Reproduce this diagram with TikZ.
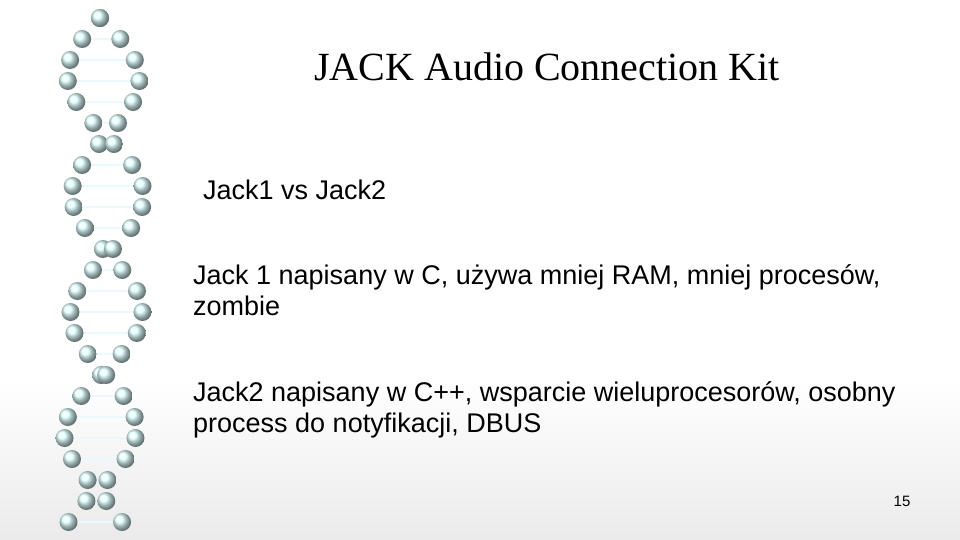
\documentclass[tikz,border=0pt]{standalone}
\usepackage{fontspec}
\setmainfont{Liberation Sans}
\newfontfamily\titlefont{Liberation Serif}
\begin{document}
\begin{tikzpicture}[x=1pt,y=-1pt,
  txt/.style={anchor=west,inner sep=0pt,font=\fontsize{27}{31}\selectfont,align=left},
  ball/.style={ball color=cyan!12!white,draw=none},
  bar/.style={line width=2.5pt,color=cyan!8!white}]
\useasboundingbox (0,0) rectangle (960,539);
\shade[top color=white,bottom color=black!8] (0,380) rectangle (960,539);
\foreach \i in {0,...,24}{
  \pgfmathsetmacro\yy{18+\i*21}
  \pgfmathsetmacro\xa{100+36*sin(\i*32)+8*sin(\i*9)}
  \pgfmathsetmacro\xb{100-36*sin(\i*32)+8*sin(\i*9)}
  \draw[bar] (\xa,\yy) -- (\xb,\yy);
  \shade[ball] (\xa,\yy) circle (9);
  \shade[ball] (\xb,\yy) circle (9);
}
\node[inner sep=0pt,font=\titlefont\fontsize{40}{44}\selectfont] (title) at (547,67) {JACK Audio Connection Kit};
\node[txt] (a) at (203,190) {Jack1 vs Jack2};
\node[txt,anchor=north west] (b) at (193,264) {Jack 1 napisany w C, używa mniej RAM, mniej procesów,\\zombie};
\node[txt,anchor=north west] (c) at (193,381) {Jack2 napisany w C++, wsparcie wieluprocesorów, osobny\\process do notyfikacji, DBUS};
\node[inner sep=0pt,font=\fontsize{15}{17}\selectfont] (n) at (902,501) {15};
\end{tikzpicture}
\end{document}
